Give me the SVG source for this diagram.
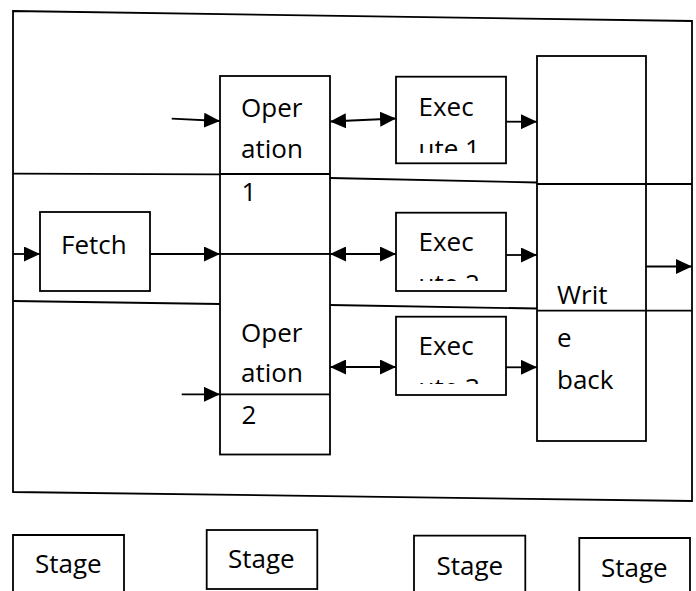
<svg xmlns="http://www.w3.org/2000/svg" width="696" height="591" viewBox="0 0 696 591">
<style>
.ln{fill:none;stroke:#000;stroke-width:1.8}
.bx{fill:#fff;stroke:#000;stroke-width:1.8}
.t{font-family:"Open Sans","Liberation Sans",sans-serif;font-size:26px;fill:#000}
.ar{fill:none;stroke:#000;stroke-width:1.8;marker-end:url(#ah)}
.da{fill:none;stroke:#000;stroke-width:1.8;marker-end:url(#ah);marker-start:url(#ah)}
</style>
<defs>
<marker id="ah" markerUnits="userSpaceOnUse" markerWidth="16" markerHeight="15" refX="16" refY="7.5" orient="auto-start-reverse" viewBox="0 0 16 15">
<path d="M0,0 L16,7.5 L0,15 z" fill="#000"/>
</marker>
<clipPath id="c1"><rect x="396" y="77" width="110" height="76"/></clipPath>
<clipPath id="c2"><rect x="396" y="213" width="110" height="68"/></clipPath>
<clipPath id="c3"><rect x="396" y="317" width="110" height="67"/></clipPath>
</defs>
<g id="frame">
<path class="ln" d="M13,11 L692,21 L692,501 L13,492 Z"/>
<path class="ln" d="M13,173.7 L220,174.3"/>
<path class="ln" d="M330,178 L537,182.5"/>
<path class="ln" d="M13,301 L220,304"/>
<path class="ln" d="M330,305 L537,308.5"/>
<path class="ln" d="M646,184 L692,184"/>
<path class="ln" d="M646,310.7 L692,310.7"/>
</g>
<g id="op1">
<rect class="bx" x="220" y="76" width="110" height="178"/>
<path class="ln" d="M220,174 L330,174"/>
<text class="t" x="241" y="116.7">Oper</text>
<text class="t" x="241" y="158.3">ation</text>
<text class="t" x="241.5" y="201">1</text>
</g>
<g id="op2">
<rect class="bx" x="220" y="254" width="110" height="200.5"/>
<path class="ln" d="M220,394.3 L330,394.3"/>
<text class="t" x="241" y="341.7">Oper</text>
<text class="t" x="241" y="381.7">ation</text>
<text class="t" x="241.5" y="424.3">2</text>
</g>
<g id="fetch">
<rect class="bx" x="40" y="212" width="110" height="79"/>
<text class="t" x="61" y="253.5">Fetch</text>
</g>
<g id="exec1">
<rect class="bx" x="396" y="76.7" width="110" height="86.6"/>
<g clip-path="url(#c1)">
<text class="t" x="418.5" y="116">Exec</text>
<text class="t" x="418.5" y="158">ute 1</text>
</g>
</g>
<g id="exec2">
<rect class="bx" x="396" y="212.7" width="110" height="78.3"/>
<g clip-path="url(#c2)">
<text class="t" x="418.5" y="250.7">Exec</text>
<text class="t" x="418.5" y="293">ute 2</text>
</g>
</g>
<g id="exec3">
<rect class="bx" x="396" y="316.7" width="110" height="78.3"/>
<g clip-path="url(#c3)">
<text class="t" x="418.5" y="355">Exec</text>
<text class="t" x="418.5" y="397">ute 3</text>
</g>
</g>
<g id="writeback">
<rect class="bx" x="537" y="56" width="109" height="385"/>
<path class="ln" d="M537,184 L646,184"/>
<path class="ln" d="M537,310.7 L646,310.7"/>
<text class="t" x="557" y="304">Writ</text>
<text class="t" x="557" y="347">e</text>
<text class="t" x="557" y="389">back</text>
</g>
<g id="stage1">
<path class="ln" d="M13,595 L13,535 L124,535 L124,595"/>
<text class="t" x="35" y="573">Stage</text>
</g>
<g id="stage2">
<rect class="bx" x="206.7" y="530" width="110.6" height="59"/>
<text class="t" x="228" y="568">Stage</text>
</g>
<g id="stage3">
<path class="ln" d="M414,595 L414,535.7 L525.3,535.7 L525.3,595"/>
<text class="t" x="436.5" y="575">Stage</text>
</g>
<g id="stage4">
<path class="ln" d="M579.3,595 L579.3,538 L690,538 L690,595"/>
<text class="t" x="601" y="577">Stage</text>
</g>
<g id="connectors">
<path class="ar" d="M171.7,118.7 L220,121"/>
<path class="ar" d="M13,254 L40,254"/>
<path class="ar" d="M150,254 L220,254"/>
<path class="ar" d="M181.7,394.3 L220,394.3"/>
<path class="da" d="M330,121.5 L396,118.5"/>
<path class="da" d="M330,254 L396,254"/>
<path class="da" d="M330,367 L396,367"/>
<path class="ar" d="M506,121.7 L537,121.7"/>
<path class="ar" d="M506,255 L537,255"/>
<path class="ar" d="M506,367.3 L537,367.3"/>
<path class="ar" d="M646,266.5 L692,266.5"/>
</g>
</svg>
